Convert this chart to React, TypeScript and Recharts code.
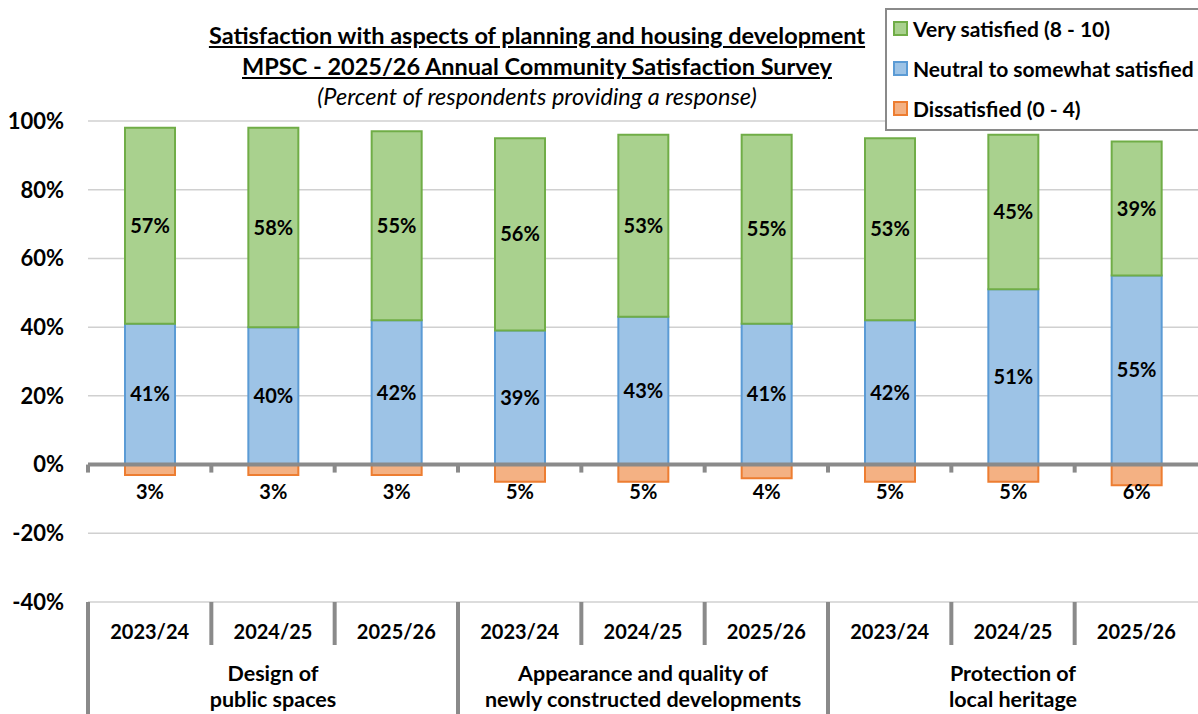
import React from "react";
import { BarChart, Bar, XAxis, YAxis, CartesianGrid, ReferenceLine, LabelList } from "recharts";

const YEARS = ["2023/24", "2024/25", "2025/26", "2023/24", "2024/25", "2025/26", "2023/24", "2024/25", "2025/26"];
const GROUPS = [
  ["Design of", "public spaces"],
  ["Appearance and quality of", "newly constructed developments"],
  ["Protection of", "local heritage"],
];
const VERY_SATISFIED = [57, 58, 55, 56, 53, 55, 53, 45, 39];
const NEUTRAL = [41, 40, 42, 39, 43, 41, 42, 51, 55];
const DISSATISFIED = [3, 3, 3, 5, 5, 4, 5, 5, 6];
const Y_TICKS = [-40, -20, 0, 20, 40, 60, 80, 100];

const FONT = "Lato, 'Open Sans', sans-serif";
const W = 1198;
const H = 714;
const LEFT = 88;
const TOP = 121;
const X_AXIS_H = 112;
const AXIS_GREY = "#8a8a8a";

const SERIES = [
  { key: "very", name: "Very satisfied (8 - 10)", fill: "#a9d18e", stroke: "#70ad47" },
  { key: "neutral", name: "Neutral to somewhat satisfied", fill: "#9dc3e6", stroke: "#5b9bd5" },
  { key: "dissat", name: "Dissatisfied (0 - 4)", fill: "#f4b183", stroke: "#ed7d31" },
];

const data = YEARS.map((year, i) => ({
  id: i,
  year,
  very: VERY_SATISFIED[i],
  neutral: NEUTRAL[i],
  dissat: -DISSATISFIED[i],
}));

const pct = (v: any) => `${Math.abs(Number(v))}%`;

// two-level category axis: year label + separators, group label on middle year
function YearTick(props: any) {
  const { x, y, index } = props;
  const bw = (W - LEFT) / YEARS.length;
  const left = x - bw / 2;
  const groupStart = index % 3 === 0;
  const group = GROUPS[Math.floor(index / 3)];
  return (
    <g>
      <line x1={left} x2={left} y1={y} y2={groupStart ? y + X_AXIS_H : y + 43} stroke={AXIS_GREY} strokeWidth={4} />
      <text x={x} y={y + 37} textAnchor="middle" fontFamily={FONT} fontWeight={700} fontSize={20} fill="#000">
        {YEARS[index]}
      </text>
      {index % 3 === 1 && (
        <text textAnchor="middle" fontFamily={FONT} fontWeight={700} fontSize={21.5} fill="#000">
          <tspan x={x} y={y + 79}>{group[0]}</tspan>
          <tspan x={x} y={y + 105}>{group[1]}</tspan>
        </text>
      )}
    </g>
  );
}

function ZeroAxis(props: any) {
  const { x1, y1, x2 } = props;
  const n = YEARS.length;
  const step = (x2 - x1) / n;
  return (
    <g>
      <line x1={x1} x2={x2} y1={y1} y2={y1} stroke={AXIS_GREY} strokeWidth={4} />
      {YEARS.map((_, k) => (
        <line key={k} x1={x1 + k * step} x2={x1 + k * step} y1={y1} y2={y1 + 8} stroke={AXIS_GREY} strokeWidth={4} />
      ))}
    </g>
  );
}

function DissatLabel(props: any) {
  const { x, y, width, height, value } = props;
  const zeroY = Math.min(y, y + height);
  return (
    <text x={x + width / 2} y={zeroY + 34} textAnchor="middle" fontFamily={FONT} fontWeight={700} fontSize={20} fill="#000">
      {pct(value)}
    </text>
  );
}

function LegendBox() {
  return (
    <div
      style={{
        position: "absolute",
        left: 885,
        top: 8,
        width: 330,
        height: 123,
        border: "2px solid #8a8a8a",
        background: "#fff",
        fontFamily: FONT,
        fontWeight: 700,
        fontSize: 21,
        color: "#000",
        boxSizing: "border-box",
        paddingTop: 0,
        zIndex: 3,
      }}
    >
      {SERIES.map((s, i) => (
        <div
          key={s.key}
          style={{ display: "flex", alignItems: "center", height: 40, paddingLeft: 6, marginTop: i === 0 ? -2 : 0 }}
        >
          <span
            style={{
              display: "inline-block",
              width: 11,
              height: 11,
              background: s.fill,
              border: `2px solid ${s.stroke}`,
              marginRight: 5,
            }}
          />
          {s.name}
        </div>
      ))}
    </div>
  );
}

export default function App() {
  return (
    <div style={{ position: "absolute", left: 0, top: 0, width: W, height: H, background: "#fff", overflow: "hidden" }}>
      <div
        style={{
          position: "absolute",
          left: 0,
          width: 1074,
          top: 20,
          textAlign: "center",
          fontFamily: FONT,
          fontSize: 23.5,
          color: "#000",
          lineHeight: "31px",
          zIndex: 2,
        }}
      >
        <div style={{ fontWeight: 700, textDecoration: "underline" }}>
          Satisfaction with aspects of planning and housing development
        </div>
        <div style={{ fontWeight: 700, textDecoration: "underline" }}>
          MPSC - 2025/26 Annual Community Satisfaction Survey
        </div>
        <div style={{ fontStyle: "italic", marginTop: -1 }}>(Percent of respondents providing a response)</div>
      </div>
      <LegendBox />
      <BarChart
        width={W}
        height={H}
        data={data}
        stackOffset="sign"
        barSize={50}
        margin={{ top: TOP, right: 0, left: 0, bottom: 0 }}
      >
        <CartesianGrid vertical={false} stroke="#d0d0d0" strokeWidth={1.5} />
        <YAxis
          width={LEFT}
          domain={[-40, 100]}
          ticks={Y_TICKS}
          interval={0}
          tickFormatter={(v) => `${v}%`}
          axisLine={false}
          tickLine={false}
          tickSize={0}
          tickMargin={24}
          tick={{ fontFamily: FONT, fontWeight: 700, fontSize: 22, fill: "#000" }}
        />
        <XAxis
          dataKey="id"
          height={X_AXIS_H}
          interval={0}
          axisLine={false}
          tickLine={false}
          tickSize={0}
          tickMargin={0}
          tick={<YearTick />}
        />
        <Bar dataKey="neutral" name={SERIES[1].name} stackId="a" fill={SERIES[1].fill} stroke={SERIES[1].stroke} strokeWidth={2} isAnimationActive={false}>
          <LabelList dataKey="neutral" position="center" formatter={pct} fontFamily={FONT} fontWeight={700} fontSize={20} fill="#000" />
        </Bar>
        <Bar dataKey="very" name={SERIES[0].name} stackId="a" fill={SERIES[0].fill} stroke={SERIES[0].stroke} strokeWidth={2} isAnimationActive={false}>
          <LabelList dataKey="very" position="center" formatter={pct} fontFamily={FONT} fontWeight={700} fontSize={20} fill="#000" />
        </Bar>
        <Bar dataKey="dissat" name={SERIES[2].name} stackId="a" fill={SERIES[2].fill} stroke={SERIES[2].stroke} strokeWidth={2} isAnimationActive={false}>
          <LabelList dataKey="dissat" content={<DissatLabel />} />
        </Bar>
        <ReferenceLine y={0} shape={<ZeroAxis />} />
      </BarChart>
    </div>
  );
}
